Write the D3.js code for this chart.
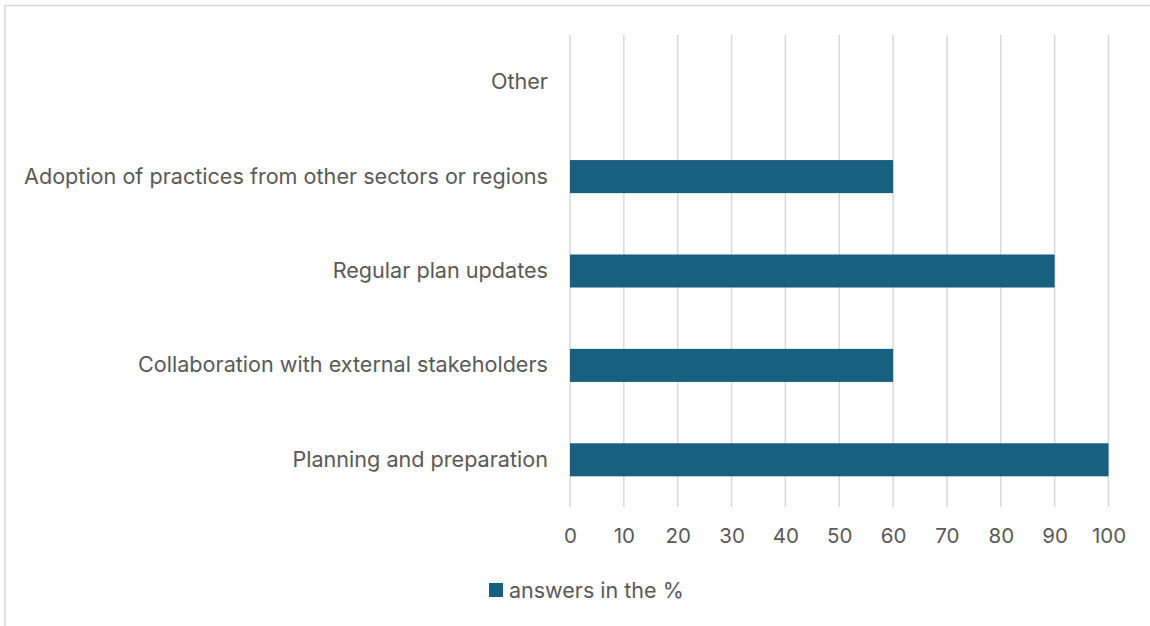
<!DOCTYPE html>
<html>
<head>
<meta charset="utf-8">
<script src="https://cdn.jsdelivr.net/npm/d3@7"></script>
<style>
  html, body { margin: 0; padding: 0; background: #fff; }
  svg { display: block; }
  text { font-family: "Inter", "Open Sans", sans-serif; fill: #595959; }
</style>
</head>
<body>
<svg id="chart" width="1150" height="626"></svg>
<script>
// Responses per measure, top to bottom
const categories = [
  "Other",
  "Adoption of practices from other sectors or regions",
  "Regular plan updates",
  "Collaboration with external stakeholders",
  "Planning and preparation"
];
const values = [0, 60, 90, 60, 100];
const tickValues = [0, 10, 20, 30, 40, 50, 60, 70, 80, 90, 100];
const seriesName = "answers in the %";

const barColor = "#17607f";
const gridColor = "#d9d9d9";

const svg = d3.select("#chart");

// Chart area frame
svg.append("rect")
  .attr("x", 5).attr("y", 5.5)
  .attr("width", 1200).attr("height", 700)
  .attr("fill", "none")
  .attr("stroke", "#d9d9d9")
  .attr("stroke-width", 1.5);

const plot = { left: 570, right: 1108.5, top: 35, bottom: 507 };

const x = d3.scaleLinear().domain([0, 100]).range([plot.left, plot.right]);
const y = d3.scaleBand().domain(categories).range([plot.top, plot.bottom]).paddingInner(0.65).paddingOuter(0.325);

// Vertical gridlines
svg.append("g")
  .selectAll("line")
  .data(tickValues)
  .join("line")
  .attr("x1", d => x(d)).attr("x2", d => x(d))
  .attr("y1", plot.top).attr("y2", plot.bottom)
  .attr("stroke", gridColor)
  .attr("stroke-width", 1.5);

// Bars
svg.append("g")
  .selectAll("rect")
  .data(categories.map((c, i) => ({ c, v: values[i] })).filter(d => d.v > 0))
  .join("rect")
  .attr("x", x(0))
  .attr("y", d => y(d.c))
  .attr("width", d => x(d.v) - x(0))
  .attr("height", y.bandwidth())
  .attr("fill", barColor);

// Value axis labels
const xAxis = d3.axisBottom(x).tickValues(tickValues).tickSize(0).tickPadding(0);
const gx = svg.append("g").attr("transform", `translate(0, ${plot.bottom + 20})`).call(xAxis);
gx.select(".domain").remove();
gx.selectAll("text")
  .attr("dy", "0.8em")
  .style("font-size", "20.5px")
  .attr("fill", "#595959");

// Category labels
const yAxis = d3.axisLeft(y).tickSize(0).tickPadding(0);
const gy = svg.append("g").attr("transform", `translate(${plot.left - 22}, 0)`).call(yAxis);
gy.select(".domain").remove();
gy.selectAll("text")
  .style("font-size", "21.6px")
  .attr("fill", "#595959");

// Legend
const legend = svg.append("g").attr("transform", "translate(489, 590)");
legend.append("rect")
  .attr("x", 0).attr("y", -7)
  .attr("width", 14).attr("height", 14)
  .attr("fill", barColor);
legend.append("text")
  .attr("x", 20).attr("y", 0)
  .attr("dy", "0.35em")
  .style("font-size", "21.5px")
  .text(seriesName);
</script>
</body>
</html>
